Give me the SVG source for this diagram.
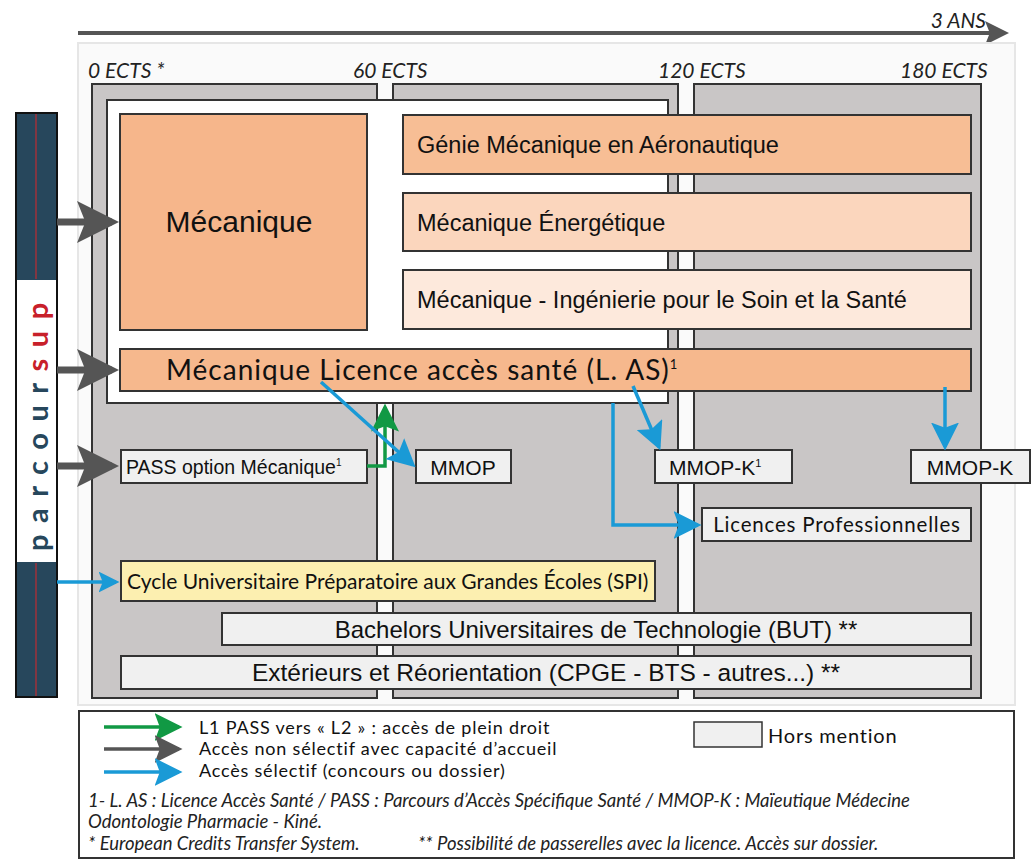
<svg xmlns="http://www.w3.org/2000/svg" width="1032" height="867" viewBox="0 0 1032 867">
<style>
.b{stroke:#333;stroke-width:2}
.g{fill:#f0f0f0}
.t{font-family:"Liberation Sans",Arial,sans-serif;fill:#111}
.l{font-family:Lato,"Open Sans",sans-serif;fill:#111}
.i{font-family:Lato,sans-serif;font-style:italic;fill:#222}
.ag{stroke:#555;stroke-width:7;fill:none}
.ab{stroke:#1a9ad6;stroke-width:3.5;fill:none}
.agr{stroke:#119944;stroke-width:3.5;fill:none}
</style>
<defs>
<marker id="mg" markerWidth="6" markerHeight="6" refX="5" refY="3" orient="auto" markerUnits="strokeWidth"><path d="M0,0L6,3L0,6L1.2,3z" fill="#555"/></marker>
<marker id="mb" markerWidth="8" markerHeight="8" refX="7" refY="4" orient="auto" markerUnits="strokeWidth"><path d="M0,0L8,4L0,8L1.5,4z" fill="#1a9ad6"/></marker>
<marker id="mb2" markerWidth="6" markerHeight="6" refX="5" refY="3" orient="auto" markerUnits="strokeWidth"><path d="M0,0L6,3L0,6L1.2,3z" fill="#1a9ad6"/></marker>
<marker id="mgr" markerWidth="8" markerHeight="8" refX="7" refY="4" orient="auto" markerUnits="strokeWidth"><path d="M0,0L8,4L0,8L1.5,4z" fill="#119944"/></marker>
<marker id="mdg" markerWidth="8" markerHeight="8" refX="7" refY="4" orient="auto" markerUnits="strokeWidth"><path d="M0,0L8,4L0,8L1.5,4z" fill="#555"/></marker>
<marker id="mt" markerWidth="6" markerHeight="6" refX="5" refY="3" orient="auto" markerUnits="strokeWidth"><path d="M0,0L6,3L0,6L1.2,3z" fill="#555"/></marker>
</defs>
<rect width="1032" height="867" fill="#fff"/>
<g id="timeline">
<line x1="78" y1="33" x2="1005" y2="33" stroke="#555" stroke-width="4" marker-end="url(#mt)"/>
<text x="986" y="28" class="i" font-size="21" text-anchor="end">3 ANS</text>
</g>
<rect x="78" y="43" width="937" height="662" fill="#fafafa" stroke="#e6e6e6" stroke-width="2"/>
<g id="ects" class="i" font-size="21">
<text x="88" y="78">0 ECTS *</text>
<text x="353" y="78">60 ECTS</text>
<text x="658" y="78">120 ECTS</text>
<text x="900" y="78">180 ECTS</text>
</g>
<g id="columns">
<rect x="92" y="84" width="285" height="614" fill="#c9c6c6" class="b"/>
<rect x="393" y="84" width="285" height="614" fill="#c9c6c6" class="b"/>
<rect x="694" y="84" width="287" height="614" fill="#c9c6c6" class="b"/>
<rect x="107" y="100" width="561" height="303" fill="#fff" class="b"/>
</g>
<g id="parcoursup">
<rect x="16" y="113" width="41" height="584" fill="#27475c" stroke="#111" stroke-width="2"/>
<rect x="17" y="280" width="39" height="282" fill="#fff"/>
<line x1="36" y1="114" x2="36" y2="279" stroke="#a0303a" stroke-width="1.5"/>
<line x1="36" y1="563" x2="36" y2="696" stroke="#a0303a" stroke-width="1.5"/>
<text transform="translate(48,551) rotate(-90)" font-family="Lato,'Open Sans',sans-serif" font-weight="bold" font-size="29" letter-spacing="11.5" fill="#27475c">parcour<tspan fill="#c8202a">sup</tspan></text>
</g>
<g id="n-mecanique"><rect x="120" y="114" width="247" height="216" fill="#f6b68b" class="b"/><text x="239" y="232" class="t" font-size="30" text-anchor="middle">Mécanique</text></g>
<g id="n-genie"><rect x="403" y="115" width="568" height="59" fill="#f7be95" class="b"/><text x="417" y="153" class="t" font-size="23.5">Génie Mécanique en Aéronautique</text></g>
<g id="n-energ"><rect x="403" y="193" width="568" height="58" fill="#fbd6bd" class="b"/><text x="417" y="231" class="t" font-size="23.5">Mécanique Énergétique</text></g>
<g id="n-soin"><rect x="403" y="270" width="568" height="59" fill="#fde9dc" class="b"/><text x="417" y="308" class="t" font-size="23.5">Mécanique - Ingénierie pour le Soin et la Santé</text></g>
<g id="n-las"><rect x="120" y="349" width="851" height="42" fill="#f6b88d" class="b"/><text x="166" y="380" class="l" font-size="28" letter-spacing="1">Mécanique Licence accès santé (L. AS)<tspan font-size="13" dy="-11" letter-spacing="0">1</tspan></text></g>
<g id="n-pass"><rect x="121" y="450" width="246" height="33" class="b g"/><text x="126" y="474" class="t" font-size="19.5">PASS option Mécanique<tspan font-size="10" dy="-8">1</tspan></text></g>
<g id="n-mmop"><rect x="416" y="450" width="95" height="33" class="b g"/><text x="463" y="475" class="t" font-size="21" text-anchor="middle">MMOP</text></g>
<g id="n-mmopk1"><rect x="655" y="450" width="137" height="33" class="b g"/><text x="669" y="475" class="t" font-size="21">MMOP-K<tspan font-size="11" dy="-8">1</tspan></text></g>
<g id="n-mmopk"><rect x="911" y="450" width="119" height="33" class="b g"/><text x="970" y="475" class="t" font-size="21" text-anchor="middle">MMOP-K</text></g>
<g id="n-lp"><rect x="702" y="508" width="269" height="33" class="b g"/><text x="837" y="532" class="l" font-size="20.5" letter-spacing="0.8" text-anchor="middle">Licences Professionnelles</text></g>
<g id="n-cycle"><rect x="121" y="561" width="534" height="40" fill="#fcefb0" class="b"/><text x="127" y="589" class="l" font-size="21">Cycle Universitaire Préparatoire aux Grandes Écoles (SPI)</text></g>
<g id="n-but"><rect x="222" y="613" width="749" height="32" class="b g"/><text x="596" y="638" class="t" font-size="24" text-anchor="middle">Bachelors Universitaires de Technologie (BUT) **</text></g>
<g id="n-ext"><rect x="121" y="656" width="850" height="33" class="b g"/><text x="546" y="681" class="t" font-size="24.5" text-anchor="middle">Extérieurs et Réorientation (CPGE - BTS - autres...) **</text></g>
<g id="connectors">
<line x1="57" y1="222" x2="112" y2="222" class="ag" marker-end="url(#mg)"/>
<line x1="57" y1="370" x2="112" y2="370" class="ag" marker-end="url(#mg)"/>
<line x1="57" y1="466" x2="112" y2="466" class="ag" marker-end="url(#mg)"/>
<line x1="57" y1="582" x2="116" y2="582" class="ab" stroke-width="6" marker-end="url(#mb2)"/>
<polyline points="367,466 385,466 385,407" class="agr" marker-end="url(#mgr)"/>
<line x1="321" y1="382" x2="413" y2="465" class="ab" marker-end="url(#mb)"/>
<polyline points="613,403 613,525 698,525" class="ab" marker-end="url(#mb)"/>
<line x1="633" y1="386" x2="659" y2="447" class="ab" marker-end="url(#mb)"/>
<line x1="945" y1="387" x2="945" y2="447" class="ab" marker-end="url(#mb)"/>
</g>
<g id="legend">
<rect x="79" y="711" width="935" height="147" fill="#fff" stroke="#333" stroke-width="2"/>
<line x1="104" y1="727" x2="179" y2="727" class="agr" marker-end="url(#mgr)"/>
<line x1="104" y1="749" x2="179" y2="749" stroke="#555" stroke-width="3.5" marker-end="url(#mdg)"/>
<line x1="104" y1="772" x2="179" y2="772" class="ab" marker-end="url(#mb)"/>
<g class="l" font-size="18" letter-spacing="0.8">
<text x="199" y="734">L1 PASS vers « L2 » : accès de plein droit</text>
<text x="199" y="755">Accès non sélectif avec capacité d’accueil</text>
<text x="199" y="777">Accès sélectif (concours ou dossier)</text>
</g>
<rect x="694" y="722" width="68" height="25" class="g" stroke="#333" stroke-width="1.5"/>
<text x="768" y="743" class="l" font-size="20" letter-spacing="0.8">Hors mention</text>
<g class="i" font-size="18.5">
<text x="88" y="807">1- L. AS : Licence Accès Santé / PASS : Parcours d’Accès Spécifique Santé / MMOP-K : Maïeutique Médecine</text>
<text x="88" y="828">Odontologie Pharmacie - Kiné.</text>
<text x="88" y="850">* European Credits Transfer System.</text>
<text x="418" y="850">** Possibilité de passerelles avec la licence. Accès sur dossier.</text>
</g>
</g>
</svg>
